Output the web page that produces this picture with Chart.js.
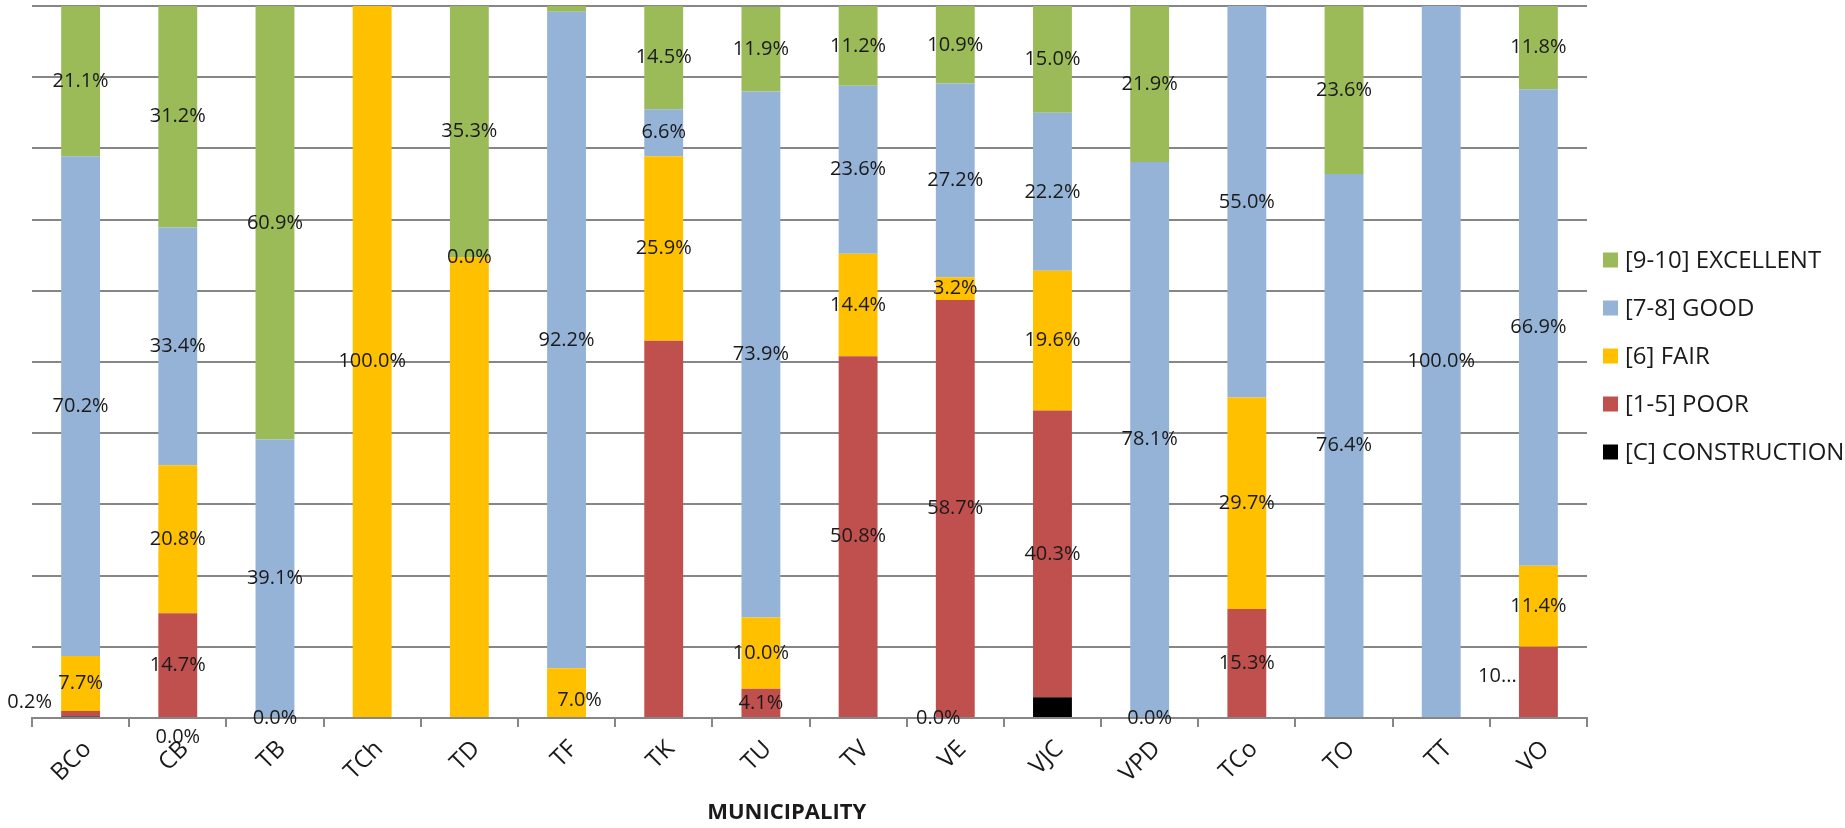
<!DOCTYPE html>
<html>
<head>
<meta charset="utf-8">
<title>Rating by municipality</title>
<script src="https://cdn.jsdelivr.net/npm/chart.js@4.4.1/dist/chart.umd.min.js"></script>
<style>
  html, body { margin: 0; padding: 0; background: #fff; }
  #wrap { width: 1845px; height: 828px; position: relative; }
</style>
</head>
<body>
<div id="wrap"><canvas id="chart"></canvas></div>
<script>
// share of each rating per municipality (%)
const municipalities = ['BCo', 'CB', 'TB', 'TCh', 'TD', 'TF', 'TK', 'TU', 'TV', 'VE', 'VJC', 'VPD', 'TCo', 'TO', 'TT', 'VO'];
const construction = [0.2, 0.0, 0.0, 0.0, 0.0, 0.0, 0.0, 0.0, 0.0, 0.0, 2.9, 0.0, 0.0, 0.0, 0.0, 0.0];
const poor = [0.8, 14.7, 0.0, 0.0, 0.0, 0.0, 53.0, 4.1, 50.8, 58.7, 40.3, 0.0, 15.3, 0.0, 0.0, 10.0];
const fair = [7.7, 20.8, 0.0, 100.0, 64.7, 7.0, 25.9, 10.0, 14.4, 3.2, 19.6, 0.0, 29.7, 0.0, 0.0, 11.4];
const good = [70.2, 33.4, 39.1, 0.0, 0.0, 92.2, 6.6, 73.9, 23.6, 27.2, 22.2, 78.1, 55.0, 76.4, 100.0, 66.9];
const excellent = [21.1, 31.2, 60.9, 0.0, 35.3, 0.8, 14.5, 11.9, 11.2, 10.9, 15.0, 21.9, 0.0, 23.6, 0.0, 11.8];

// data labels as they appear on the chart (null = not shown)
const constructionLabels = ['0.2%', '0.0%', null, null, null, null, null, null, null, '0.0%', null, null, null, null, null, null];
const poorLabels = [null, '14.7%', '0.0%', null, null, null, null, '4.1%', '50.8%', '58.7%', '40.3%', '0.0%', '15.3%', null, null, '10...'];
const fairLabels = ['7.7%', '20.8%', null, '100.0%', null, '7.0%', '25.9%', '10.0%', '14.4%', '3.2%', '19.6%', null, '29.7%', null, null, '11.4%'];
const goodLabels = ['70.2%', '33.4%', '39.1%', null, '0.0%', '92.2%', '6.6%', '73.9%', '23.6%', '27.2%', '22.2%', '78.1%', '55.0%', '76.4%', '100.0%', '66.9%'];
const excellentLabels = ['21.1%', '31.2%', '60.9%', null, '35.3%', null, '14.5%', '11.9%', '11.2%', '10.9%', '15.0%', '21.9%', null, '23.6%', null, '11.8%'];

const FONT = "'Open Sans', sans-serif";
const TEXT = '#1a1a1a';
const AXIS_GREY = '#868686';

// labels that were dragged off their segment in the original
const labelNudge = {
  '0:0': [-51, -14],
  '0:1': [0, 19],
  '0:9': [-17, 0],
  '1:15': [-41, -6],
  '2:5': [13, 8],
};

const segmentLabels = {
  id: 'segmentLabels',
  afterDatasetsDraw(chart) {
    const ctx = chart.ctx;
    ctx.save();
    ctx.font = `20px ${FONT}`;
    ctx.fillStyle = TEXT;
    ctx.textAlign = 'center';
    ctx.textBaseline = 'middle';
    chart.data.datasets.forEach((ds, di) => {
      const meta = chart.getDatasetMeta(di);
      meta.data.forEach((bar, i) => {
        const text = ds.segmentLabels[i];
        if (!text) return;
        const { x, y, base } = bar.getProps(['x', 'y', 'base'], true);
        const n = labelNudge[di + ':' + i] || [0, 0];
        ctx.fillText(text, x + n[0], (y + base) / 2 + n[1]);
      });
    });
    ctx.restore();
  },
};

// legend on the right, top entry = top of the stack
const sideLegend = {
  id: 'sideLegend',
  afterDraw(chart) {
    const ctx = chart.ctx;
    const left = chart.chartArea.right + 16;
    ctx.save();
    ctx.font = `24px ${FONT}`;
    ctx.textBaseline = 'middle';
    ctx.textAlign = 'left';
    const items = chart.data.datasets.slice().reverse();
    items.forEach((ds, k) => {
      const cy = 260 + k * 48;
      ctx.fillStyle = ds.backgroundColor;
      ctx.fillRect(left, cy - 7.5, 15, 15);
      ctx.fillStyle = TEXT;
      ctx.fillText(ds.label, left + 22, cy + 1);
    });
    ctx.restore();
  },
};

new Chart(document.getElementById('chart'), {
  type: 'bar',
  data: {
    labels: municipalities,
    datasets: [
      { label: '[C] CONSTRUCTION', data: construction, segmentLabels: constructionLabels, backgroundColor: '#000000' },
      { label: '[1-5] POOR', data: poor, segmentLabels: poorLabels, backgroundColor: '#C0504D' },
      { label: '[6] FAIR', data: fair, segmentLabels: fairLabels, backgroundColor: '#FFC000' },
      { label: '[7-8] GOOD', data: good, segmentLabels: goodLabels, backgroundColor: '#95B3D7' },
      { label: '[9-10] EXCELLENT', data: excellent, segmentLabels: excellentLabels, backgroundColor: '#9BBB59' },
    ],
  },
  options: {
    responsive: true,
    maintainAspectRatio: false,
    animation: false,
    devicePixelRatio: 1,
    datasets: { bar: { barPercentage: 0.8, categoryPercentage: 0.5 } },
    layout: { padding: { left: 32, top: 6, right: 258, bottom: 0 } },
    plugins: {
      legend: { display: false },
      tooltip: { enabled: false },
      title: { display: false },
    },
    scales: {
      x: {
        stacked: true,
        afterFit: (s) => { s.height = 110; },
        grid: { drawOnChartArea: false, drawTicks: true, tickLength: 9, color: AXIS_GREY, lineWidth: 2, offset: true },
        border: { color: AXIS_GREY, width: 2 },
        ticks: {
          color: TEXT,
          font: { family: FONT, size: 24 },
          minRotation: 45,
          maxRotation: 45,
          padding: 8,
          labelOffset: 7,
        },
        title: {
          display: true,
          text: 'MUNICIPALITY' + '\u00A0'.repeat(8),
          color: TEXT,
          font: { family: FONT, size: 22, weight: 'bold' },
          padding: { top: 0, bottom: 2 },
        },
      },
      y: {
        stacked: true,
        min: 0,
        max: 100,
        afterFit: (s) => { s.width = 0; },
        ticks: { display: false, stepSize: 10 },
        grid: { color: AXIS_GREY, lineWidth: 2, drawTicks: false },
        border: { display: false },
      },
    },
  },
  plugins: [segmentLabels, sideLegend],
});
</script>
</body>
</html>
